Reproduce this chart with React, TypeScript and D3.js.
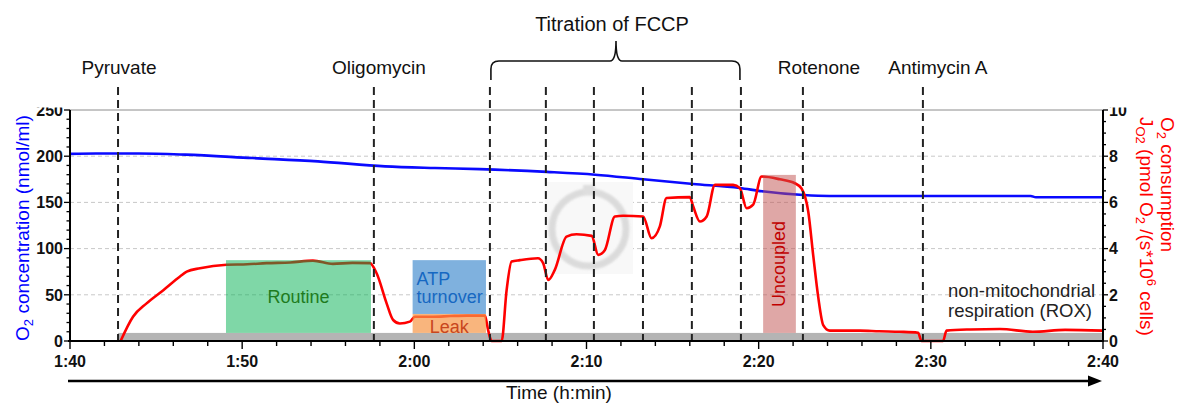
import React from "react";
import * as d3 from "d3";

// time axis in minutes since 0:00 (100 = 1:40)
const o2Time = [100, 101.5, 104, 106.7, 110.6, 114.4, 118.3, 121.2, 123.8, 127.7, 130.5, 133.3, 136.2, 138.9, 140.2, 142.6, 144.1, 155.8, 156.1, 160];
const o2Conc = [202.5, 203, 203, 201.7, 198, 194.4, 189, 187.2, 186, 183, 180, 175, 170, 165.6, 162, 158, 157, 157, 155.5, 155.5];

const fluxTime = [
  102.94, 103.66, 104.45, 105.42, 106.39, 106.78, 107.55, 109.1, 110.3, 111.42, 112.8, 114.11, 115.27, 116.4, 117.42,
  117.81, 118.39, 118.77, 119.16, 119.74, 120.03, 121.1, 122.1, 123.04, 124.1, 124.29, 124.49, 125.07,
  125.36, 125.65, 126.13, 127.18, 127.48, 127.78, 128.16, 128.84, 129.42, 130.3, 130.68, 131.07, 131.65,
  132.13, 133.29, 133.78, 134.26, 134.65, 136.0, 136.2, 136.59, 136.98, 137.46, 138.52, 138.91, 139.3,
  139.68, 140.17, 141.23, 142.1, 142.49, 142.88, 143.17, 143.46, 143.75, 144.13, 145.88, 147.0, 148.2,
  149.26, 149.46, 150.71, 150.91, 152.3, 154.01, 155.92, 157.8, 160,
];
const fluxValue = [
  0, 1.05, 1.63, 2.2, 2.79, 3.0, 3.15, 3.3, 3.32, 3.37, 3.4, 3.48, 3.34, 3.38, 3.37,
  2.93, 1.63, 0.91, 0.76, 0.84, 1.05, 1.05, 1.08, 1.1, 1.1, 0.46, 0, 0,
  2.2, 3.44, 3.5, 3.58, 3.37, 2.64, 3.08, 4.52, 4.62, 4.55, 3.73, 3.94, 5.39,
  5.42, 5.39, 4.45, 4.96, 6.19, 6.23, 5.82, 5.17, 5.39, 6.76, 6.76, 6.62, 5.75,
  5.9, 7.12, 7.0, 6.83, 6.6, 5.6, 3.7, 1.9, 0.69, 0.45, 0.45, 0.42, 0.4,
  0.36, 0, 0, 0.45, 0.5, 0.52, 0.4, 0.48, 0.45,
];

const injections = ["Pyruvate", "Oligomycin", "Rotenone", "Antimycin A"];
const injectionTimes = [102.79, 117.65, 142.57, 149.54];
const fccpTimes = [124.39, 127.64, 130.43, 133.28, 136.12, 138.97];

const stateNames = ["Routine", "ATP turnover", "Leak", "Uncoupled"];
const stateStart = [109.06, 119.9, 119.9, 140.26];
const stateEnd = [117.48, 124.16, 124.16, 142.16];
const stateLow = [0.35, 1.17, 0.35, 0.35];
const stateHigh = [3.5, 3.5, 1.17, 7.19];

const roxLevel = 0.35;

const font = "'Liberation Sans', Arial, sans-serif";

const fmtTime = (t: number) => `${Math.floor(t / 60)}:${String(t % 60).padStart(2, "0")}`;

export default function App() {
  const x = d3.scaleLinear().domain([100, 160]).range([70, 1103]);
  const yL = d3.scaleLinear().domain([0, 250]).range([341, 110]);
  const yR = d3.scaleLinear().domain([0, 10]).range([341, 110]);

  const o2Line = d3.line<number>()
    .x((_, i) => x(o2Time[i]))
    .y(d => yL(d))
    .curve(d3.curveMonotoneX)(o2Conc);

  const fluxLine = d3.line<number>()
    .x((_, i) => x(fluxTime[i]))
    .y(d => yR(d))
    .curve(d3.curveMonotoneX)(fluxValue);

  const boxFill = ["#00b050", "#5b9bd5", "#f79646", "#c0504d"];
  const boxOpacity = [0.5, 0.78, 0.7, 0.5];
  const labelDx = [1, 5, 16, 15];

  const top = yL(250), bottom = yL(0);

  return (
    <svg width={1178} height={404} style={{ position: "absolute", left: 0, top: 0 }} fontFamily={font}>
      <defs>
        <clipPath id="tickclip">
          <rect x={0} y={107.5} width={1178} height={300} />
        </clipPath>
        <filter id="soft">
          <feGaussianBlur stdDeviation={1.2} />
        </filter>
      </defs>
      <rect width={1178} height={404} fill="#fff" />

      {/* grid */}
      {[50, 100, 150, 200].map(v => (
        <line key={v} x1={x(100)} x2={x(160)} y1={yL(v)} y2={yL(v)} stroke="#c8c8c8" strokeDasharray="4,3" />
      ))}
      <line x1={x(100)} x2={x(160)} y1={top} y2={top} stroke="#8c8c8c" />

      {/* faint watermark */}
      <rect x={545} y={182} width={88} height={92} fill="#f8f8f8" />
      <g filter="url(#soft)" opacity={0.75}>
        <circle cx={589} cy={229} r={37} fill="none" stroke="#d2d2d2" strokeWidth={7} />
        <rect x={583} y={185} width={12} height={10} fill="#d6d6d6" />
      </g>

      {/* ROX baseline band */}
      <rect x={x(injectionTimes[0])} y={yR(roxLevel)} width={x(160) - x(injectionTimes[0])} height={yR(0) - yR(roxLevel)} fill="#b4b4b4" />

      <path d={o2Line || ""} fill="none" stroke="#0a0aff" strokeWidth={2.6} />
      <path d={fluxLine || ""} fill="none" stroke="#ff0000" strokeWidth={2.6} />

      {/* respiratory states */}
      {stateNames.map((n, i) => (
        <rect key={n} x={x(stateStart[i])} y={yR(stateHigh[i])} width={x(stateEnd[i]) - x(stateStart[i])}
          height={yR(stateLow[i]) - yR(stateHigh[i])} fill={boxFill[i]} opacity={boxOpacity[i]} />
      ))}
      <text x={(x(stateStart[0]) + x(stateEnd[0])) / 2} y={303} textAnchor="middle" fontSize={18} fill="#1e7b1e">{stateNames[0]}</text>
      <text x={x(stateStart[1]) + 4} y={285} fontSize={18} fill="#1668c2">
        <tspan>ATP</tspan>
        <tspan x={x(stateStart[1]) + 4} dy={18}>turnover</tspan>
      </text>
      <text x={(x(stateStart[2]) + x(stateEnd[2])) / 2} y={333} textAnchor="middle" fontSize={18} fill="#c8461e">{stateNames[2]}</text>
      <text transform={`translate(${(x(stateStart[3]) + x(stateEnd[3])) / 2 + 6},264) rotate(-90)`} textAnchor="middle" fontSize={18} fill="#c00000">{stateNames[3]}</text>
      <text x={948} y={297} fontSize={18.5} fill="#222">
        <tspan>non-mitochondrial</tspan>
        <tspan x={948} dy={20}>respiration (ROX)</tspan>
      </text>

      {/* injections */}
      {[...injectionTimes, ...fccpTimes].map((t, i) => (
        <line key={i} x1={x(t)} x2={x(t)} y1={87} y2={bottom} stroke="#222" strokeWidth={2} strokeDasharray="8,5" />
      ))}
      {injections.map((n, i) => (
        <text key={n} x={x(injectionTimes[i]) + labelDx[i]} y={74} textAnchor="middle" fontSize={19} fill="#111">{n}</text>
      ))}
      {(() => {
        const a = x(fccpTimes[0]) + 1, b = x(fccpTimes[fccpTimes.length - 1]) - 1;
        const m = 616, yb = 61, r = 8;
        const d = `M${a},80 L${a},${yb + r} Q${a},${yb} ${a + r},${yb} L${m - 6},${yb} Q${m},${yb} ${m},${41}` +
          ` Q${m},${yb} ${m + 6},${yb} L${b - r},${yb} Q${b},${yb} ${b},${yb + r} L${b},80`;
        return <path d={d} fill="none" stroke="#111" strokeWidth={1.6} />;
      })()}
      <text x={612} y={31} textAnchor="middle" fontSize={20} fill="#111">Titration of FCCP</text>

      {/* left axis */}
      <line x1={70} x2={70} y1={top} y2={bottom} stroke="#000" strokeWidth={2} />
      {d3.range(0, 251, 10).map(v => (
        <line key={v} x1={v % 50 === 0 ? 64 : 66.5} x2={70} y1={yL(v)} y2={yL(v)} stroke="#000" strokeWidth={1.3} />
      ))}
      <g clipPath="url(#tickclip)">
        {yL.ticks(5).map(v => (
          <text key={v} x={63} y={yL(v)} dy="0.36em" textAnchor="end" fontSize={16} fontWeight="bold" fill="#111">{v}</text>
        ))}
        {yR.ticks(5).map(v => (
          <text key={v} x={1109} y={yR(v)} dy="0.36em" fontSize={16} fontWeight="bold" fill="#111">{v}</text>
        ))}
      </g>
      <text transform="translate(29,228) rotate(-90)" textAnchor="middle" fontSize={19} fill="#0000ff">
        O<tspan dy={4} fontSize={13}>2</tspan><tspan dy={-4}> concentration (nmol/ml)</tspan>
      </text>

      {/* right axis */}
      <line x1={1103} x2={1103} y1={top} y2={bottom} stroke="#000" strokeWidth={2} />
      {d3.range(0, 10.01, 0.5).map(v => (
        <line key={v} x1={1103} x2={v % 2 === 0 ? 1108 : 1106} y1={yR(v)} y2={yR(v)} stroke="#000" strokeWidth={1.3} />
      ))}
      <text transform="translate(1161,117) rotate(90)" fontSize={19} fill="#ff0000">
        O<tspan dy={4} fontSize={13}>2</tspan><tspan dy={-4}> consumption</tspan>
      </text>
      <text transform="translate(1140,117) rotate(90)" fontSize={19} fill="#ff0000">
        J<tspan dy={4} fontSize={13}>O2</tspan><tspan dy={-4}> (pmol O</tspan><tspan dy={4} fontSize={13}>2</tspan>
        <tspan dy={-4}> /(s*10</tspan><tspan dy={-7} fontSize={13}>6</tspan><tspan dy={7}> cells)</tspan>
      </text>

      {/* bottom axis */}
      <line x1={68} x2={1104} y1={bottom} y2={bottom} stroke="#000" strokeWidth={2} />
      {d3.range(100, 160.01, 2).map(t => (
        <line key={t} x1={x(t)} x2={x(t)} y1={bottom} y2={bottom + (t % 10 === 0 ? 8 : 5)} stroke="#000" strokeWidth={1.4} />
      ))}
      {d3.range(100, 160.01, 10).map(t => (
        <text key={t} x={x(t)} y={367} textAnchor="middle" fontSize={16} fontWeight="bold" fill="#111">{fmtTime(t)}</text>
      ))}

      {/* time arrow */}
      <line x1={68} x2={1090} y1={381} y2={381} stroke="#000" strokeWidth={2.5} />
      <polygon points="1088,375.5 1102,381 1088,386.5" fill="#000" />
      <text x={559} y={399} textAnchor="middle" fontSize={19} fill="#111">Time (h:min)</text>
    </svg>
  );
}
